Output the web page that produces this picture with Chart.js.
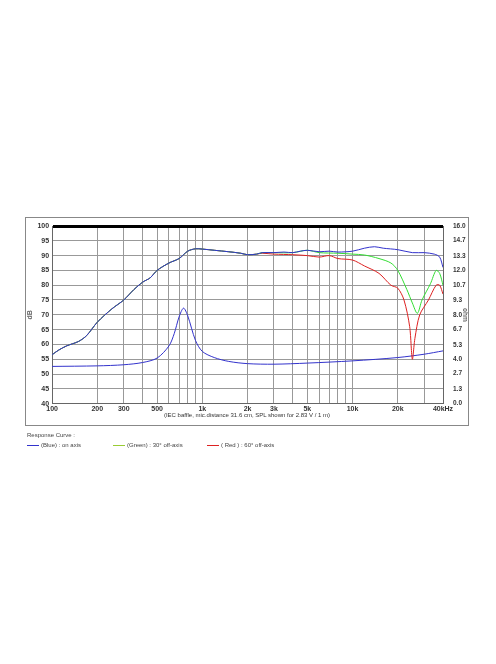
<!DOCTYPE html>
<html><head><meta charset="utf-8">
<script src="https://cdn.jsdelivr.net/npm/chart.js@4/dist/chart.umd.min.js"></script>
<style>
body{margin:0;background:#fff;font-family:"Liberation Sans",Arial,sans-serif}
#frame{position:absolute;left:25px;top:217px;width:444px;height:209px;border:1px solid #888;box-sizing:border-box}
#wrap{position:absolute;left:0;top:0;width:443px;height:196px}
#cap{position:absolute;left:0;width:442px;top:194px;text-align:center;font-size:6px;color:#333}
#leg{position:absolute;left:27px;top:432px;font-size:6px;color:#444}
.it{position:absolute;top:10px;white-space:nowrap}
.ln{display:inline-block;width:12px;height:1px;vertical-align:middle;margin-right:2px}
</style></head><body>
<div id="frame"><div id="wrap"><canvas id="c"></canvas></div>
<div id="cap">(IEC baffle, mic.distance 31.6 cm, SPL shown for 2.83 V / 1 m)</div></div>
<div id="leg"><div>Response Curve :</div>
<div class="it" style="left:0"><span class="ln" style="background:#3333cc"></span>(Blue) : on axis</div>
<div class="it" style="left:86px"><span class="ln" style="background:#99cc33"></span>(Green) : 30° off-axis</div>
<div class="it" style="left:180px"><span class="ln" style="background:#dd2222"></span>( Red ) : 60° off-axis</div></div>
<script>
const freqLabels = {100:'100',200:'200',300:'300',500:'500',1000:'1k',2000:'2k',3000:'3k',5000:'5k',10000:'10k',20000:'20k',40000:'40kHz'};
const ohmLabels = ['0.0','1.3','2.7','4.0','5.3','6.7','8.0','9.3','10.7','12.0','13.3','14.7','16.0'];
const gridFreqs = [100,200,300,400,500,600,700,800,900,1000,2000,3000,4000,5000,6000,7000,8000,9000,10000,20000,30000,40000];

const baseF = [100,110,125,150,170,200,250,300,350,400,450,500,600,700,800,900,1000,1200,1500,1800,2000,2300];
const baseDb = [56.5,58,59.5,61,63,67.5,72,75,78.5,81,82.5,85,87.5,89,91.5,92.3,92.2,91.8,91.3,90.8,90.3,90.5];
const blueF = [2500,3000,3500,4000,4500,5000,6000,7000,8000,10000,12000,14000,16000,20000,25000,30000,35000,38000,40000];
const blueDb = [91,91,91.2,91,91.5,91.8,91.3,91.5,91.2,91.5,92.5,93,92.5,92,91,91,90.5,89.5,86];
const greenF = [2500,3000,4000,5000,6000,8000,10000,12000,15000,18000,20000,23000,25000,27000,29000,33000,36000,38000,40000];
const greenDb = [91,91,91,91.8,91,90.8,90.5,90.2,89,87.5,85,78.5,74,70.5,75,80.5,85,84,80];
const redF = [2500,3000,4000,5000,6000,7000,8000,10000,12000,15000,18000,20000,22000,24000,25000,26000,28000,32000,36000,38000,40000];
const redDb = [90.8,90.5,90.3,90,89.5,90,89,88.5,86.5,84,80,79,75,66,55,62,70,75,80,80,77];
const impF = [100,200,300,400,500,600,650,700,750,800,900,1000,1200,1500,2000,3000,5000,10000,20000,30000,40000];
const impOhm = [3.35,3.4,3.5,3.7,4.1,5.2,6.3,7.8,8.6,7.9,5.7,4.7,4.15,3.8,3.6,3.55,3.65,3.85,4.15,4.45,4.75];

const pts = (f, v) => f.map((x, i) => ({x, y: v[i]}));
const ds = (label, data, color, axis) => ({label, data, borderColor: color, borderWidth: 1, pointRadius: 0, tension: 0.3, yAxisID: axis, fill: false});
const tf = {size: 6.5, weight: 'bold'};

new Chart(document.getElementById('c'), {
  type: 'line',
  data: {datasets: [
    ds('on axis', pts(baseF.concat(blueF), baseDb.concat(blueDb)), '#3333cc', 'y'),
    ds('30°', pts(baseF.concat(greenF), baseDb.concat(greenDb)), '#33dd33', 'y'),
    ds('60°', pts(baseF.concat(redF), baseDb.concat(redDb)), '#dd2222', 'y'),
    ds('Impedance', pts(impF, impOhm), '#3333cc', 'y1')
  ]},
  options: {
    responsive: true, maintainAspectRatio: false, animation: false,
    layout: {padding: {top: 8, left: 0, right: 0}},
    plugins: {legend: {display: false}, tooltip: {enabled: false}},
    scales: {
      x: {type: 'logarithmic', min: 100, max: 40000,
        afterBuildTicks: s => { s.ticks = gridFreqs.map(v => ({value: v})); },
        ticks: {autoSkip: false, maxRotation: 0, font: {size: 7, weight: 'bold'}, color: '#333', padding: 1,
          callback: v => freqLabels[v] || ''},
        grid: {color: '#999', lineWidth: 1, drawTicks: false}, border: {color: '#666'}},
      y: {min: 40, max: 100, position: 'left',
        ticks: {stepSize: 5, font: {size: 7, weight: 'bold'}, color: '#333', padding: 3},
        title: {display: true, text: 'dB', font: {size: 7, weight: 'bold'}, padding: 0},
        grid: {color: ctx => ctx.tick.value === 100 ? '#000' : '#999', lineWidth: ctx => ctx.tick.value === 100 ? 3 : 1, drawTicks: false},
        border: {color: '#666'}},
      y1: {min: 0, max: 16, position: 'right', afterFit: s => { s.width = 26; },
        afterBuildTicks: s => { s.ticks = ohmLabels.map(v => ({value: parseFloat(v)})); },
        ticks: {autoSkip: false, font: tf, color: '#333', padding: 2,
          callback: (v, i) => ohmLabels[i]},
        title: {display: true, text: 'ohm', font: tf, padding: 0},
        grid: {display: false}, border: {color: '#666'}}
    }
  }
});
</script></body></html>
